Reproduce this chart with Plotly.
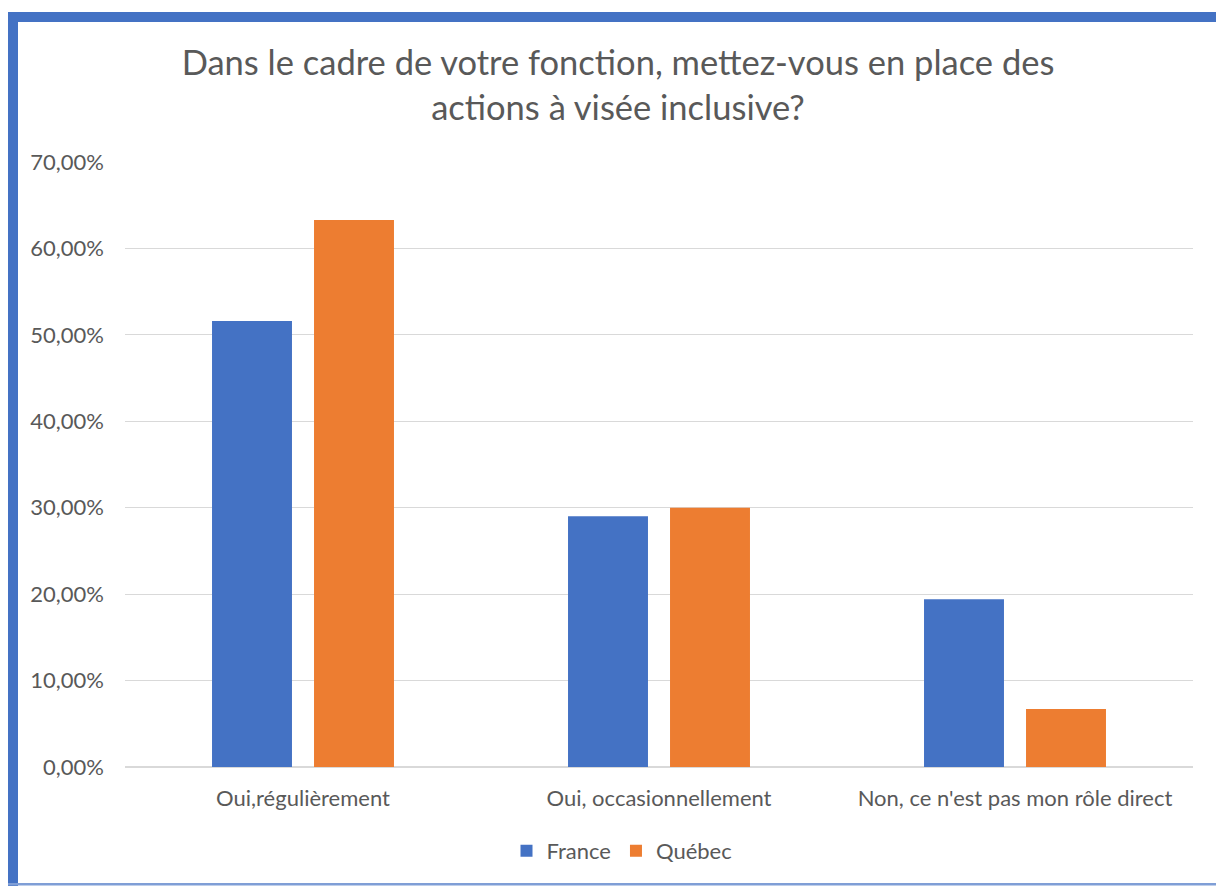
import plotly.graph_objects as go

categories = ["Oui,régulièrement", "Oui, occasionnellement", "Non, ce n'est pas mon rôle direct"]
france = [0.516, 0.290, 0.194]
quebec = [0.633, 0.300, 0.067]
series_names = ["France", "Québec"]
colors = ["#4472C4", "#ED7D31"]
title_text = "Dans le cadre de votre fonction, mettez-vous en place des<br>actions à visée inclusive?"

W, H = 1216, 886
L, R, T, B = 125, 23, 162, 119
pw, ph = W - L - R, H - T - B

def px_x(px):
    return (px - L) / pw

def px_y(py):
    return (H - B - py) / ph

FONT = "Lato"
TXT = "#595959"

fig = go.Figure()
for name, vals, col in zip(series_names, [france, quebec], colors):
    fig.add_trace(go.Bar(name=name, x=categories, y=vals, marker=dict(color=col, line=dict(width=0))))

fig.update_layout(
    width=W, height=H,
    margin=dict(l=L, r=R, t=T, b=B),
    paper_bgcolor="white", plot_bgcolor="white",
    separators=", ",
    barmode="group", bargap=0.427, bargroupgap=0.216,
    font=dict(family=FONT, color=TXT),
    title=dict(text=title_text, x=618 / W, xanchor="center", xref="container",
               y=1 - 75 / H, yanchor="middle", yref="container",
               font=dict(family=FONT, size=34.5, color=TXT)),
    legend=dict(orientation="h", x=px_x(622), xanchor="center", y=px_y(851), yanchor="middle",
                font=dict(family=FONT, size=22, color=TXT), itemwidth=30, traceorder="normal"),
    showlegend=True,
)
fig.update_yaxes(range=[0, 0.7], dtick=0.1, tickformat=".2%", gridcolor="#D9D9D9", gridwidth=1.3,
                 zeroline=True, zerolinecolor="#D9D9D9", zerolinewidth=1.5, showline=False,
                 tickfont=dict(family=FONT, size=22, color=TXT), ticklabelstandoff=20)
fig.update_xaxes(showline=False, tickfont=dict(family=FONT, size=22, color=TXT), ticklabelstandoff=16)

border = "#4472C4"
shapes = [
    dict(type="rect", xref="paper", yref="paper", x0=px_x(8), x1=px_x(18), y0=px_y(886), y1=px_y(12),
         fillcolor=border, line=dict(width=0), layer="above"),
    dict(type="rect", xref="paper", yref="paper", x0=px_x(8), x1=px_x(1216), y0=px_y(22), y1=px_y(12),
         fillcolor=border, line=dict(width=0), layer="above"),
    dict(type="rect", xref="paper", yref="paper", x0=px_x(8), x1=px_x(1216), y0=px_y(885.5), y1=px_y(883),
         fillcolor="#7F9ED6", line=dict(width=0), layer="above"),
]
fig.update_layout(shapes=shapes)

fig.write_html("out.html", config=dict(displayModeBar=False),
               post_script="document.body.style.margin='0';document.body.style.overflow='hidden';")
